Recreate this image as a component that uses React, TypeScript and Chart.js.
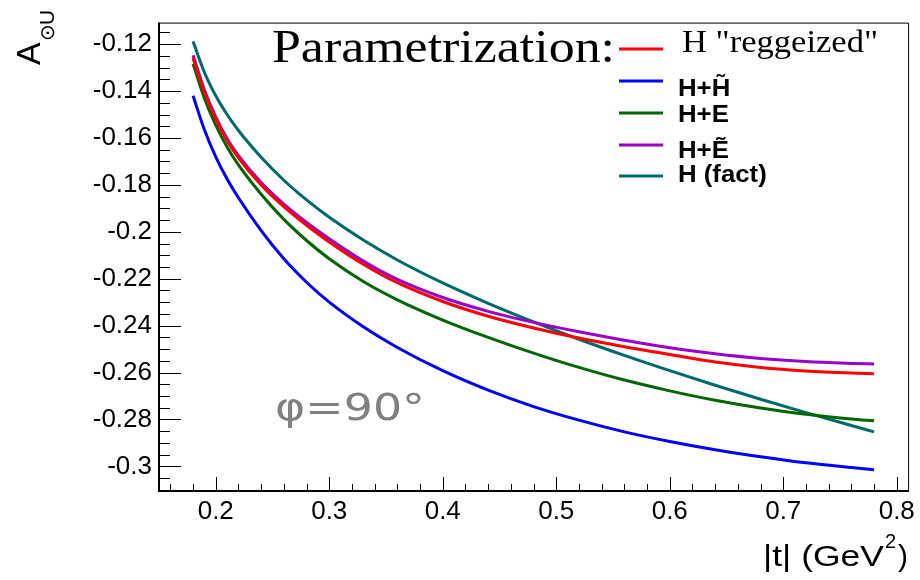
import React, { useEffect, useRef } from 'react';
import { Chart, registerables } from 'chart.js';

Chart.register(...registerables);

// |t| values (GeV^2)
const T_VALUES = [0.18, 0.19, 0.2, 0.21, 0.22, 0.24, 0.26, 0.28, 0.3, 0.33, 0.36, 0.4, 0.44, 0.48, 0.52, 0.56, 0.6, 0.64, 0.68, 0.72, 0.76, 0.78];

const H_REGGEIZED = [-0.1260, -0.1405, -0.1520, -0.1612, -0.1685, -0.1800, -0.1893, -0.1972, -0.2043, -0.2138, -0.2217, -0.2297, -0.2360, -0.2410, -0.2453, -0.2490, -0.2523, -0.2555, -0.2578, -0.2593, -0.2602, -0.2605];
const H_HTILDE = [-0.1420, -0.1565, -0.1680, -0.1775, -0.1855, -0.1995, -0.2115, -0.2215, -0.2300, -0.2405, -0.2493, -0.2592, -0.2675, -0.2745, -0.2803, -0.2853, -0.2894, -0.2929, -0.2959, -0.2985, -0.3005, -0.3014];
const H_E = [-0.1284, -0.1430, -0.1545, -0.1638, -0.1715, -0.1840, -0.1947, -0.2037, -0.2115, -0.2212, -0.2290, -0.2376, -0.2450, -0.2517, -0.2578, -0.2632, -0.2678, -0.2718, -0.2751, -0.2778, -0.2798, -0.2806];
const H_ETILDE = [-0.1247, -0.1395, -0.1510, -0.1603, -0.1675, -0.1790, -0.1882, -0.1960, -0.2030, -0.2125, -0.2203, -0.2280, -0.2339, -0.2386, -0.2426, -0.2462, -0.2494, -0.2520, -0.2540, -0.2553, -0.2561, -0.2564];
const H_FACT = [-0.1188, -0.1320, -0.1420, -0.1500, -0.1568, -0.1682, -0.1780, -0.1864, -0.1938, -0.2035, -0.2120, -0.2218, -0.2305, -0.2384, -0.2458, -0.2527, -0.2592, -0.2654, -0.2714, -0.2771, -0.2826, -0.2853];

const SERIES_LABELS = ['H "reggeized"', 'H+H\u0303', 'H+E', 'H+E\u0303', 'H (fact)'];
const SERIES_COLORS = ['#ff0000', '#0000ff', '#006600', '#9900cc', '#006a6a'];
const SERIES_VALUES = [H_REGGEIZED, H_HTILDE, H_E, H_ETILDE, H_FACT];

const X_MIN = 0.15;
const X_MAX = 0.81;
const X_STEP = 0.1;
const X_MINOR = 0.02;
const Y_MIN = -0.3105;
const Y_MAX = -0.1108;
const Y_STEP = 0.02;
const Y_MINOR = 0.005;

const HEADER = 'Parametrization:';
const PHI_LABEL = '\u03c6=90\u00b0';
const X_TITLE = '|t| (GeV';
const Y_TITLE = 'A';

function drawText(ctx: CanvasRenderingContext2D, s: string, x: number, y: number, font: string, color: string, opts: { sx?: number; width?: number; align?: 'left' | 'right' } = {}) {
  ctx.save();
  ctx.font = font;
  ctx.fillStyle = color;
  ctx.textAlign = 'left';
  ctx.textBaseline = 'alphabetic';
  const m = ctx.measureText(s).width;
  let sx = opts.sx ?? 1;
  if (opts.width) sx = opts.width / m;
  const w = m * sx;
  const x0 = opts.align === 'right' ? x - w : x;
  ctx.translate(x0, y);
  ctx.scale(sx, 1);
  ctx.fillText(s, 0, 0);
  ctx.restore();
  return w;
}

const framePlugin = {
  id: 'rootFrame',
  afterDraw(chart: any) {
    const { ctx, chartArea: a, scales } = chart;
    const xs = scales.x;
    const ys = scales.y;
    ctx.save();
    ctx.strokeStyle = '#000';
    ctx.lineWidth = 1;
    ctx.beginPath();
    ctx.moveTo(a.left, a.top + 0.5);
    ctx.lineTo(a.right + 0.5, a.top + 0.5);
    ctx.lineTo(a.right + 0.5, a.bottom);
    ctx.stroke();
    ctx.lineWidth = 2;
    ctx.beginPath();
    ctx.moveTo(a.left, a.top);
    ctx.lineTo(a.left, a.bottom);
    ctx.lineTo(a.right + 1, a.bottom);
    ctx.stroke();
    ctx.lineWidth = 1;
    ctx.beginPath();
    const i0 = Math.ceil(xs.min / X_MINOR - 1e-9);
    for (let i = i0; i * X_MINOR <= xs.max + 1e-9; i++) {
      const v = i * X_MINOR;
      const r = v / X_STEP;
      const major = Math.abs(r - Math.round(r)) < 1e-6;
      const px = Math.round(xs.getPixelForValue(v)) + 0.5;
      ctx.moveTo(px, a.bottom);
      ctx.lineTo(px, a.bottom - (major ? 14 : 7));
    }
    const j0 = Math.ceil(ys.min / Y_MINOR - 1e-9);
    for (let j = j0; j * Y_MINOR <= ys.max + 1e-9; j++) {
      const v = j * Y_MINOR;
      const r = v / Y_STEP;
      const major = Math.abs(r - Math.round(r)) < 1e-6;
      const py = Math.round(ys.getPixelForValue(v)) + 0.5;
      ctx.moveTo(a.left, py);
      ctx.lineTo(a.left + (major ? 22 : 11), py);
    }
    ctx.stroke();
    ctx.restore();
  },
};

const textPlugin = {
  id: 'rootTexts',
  afterDraw(chart: any) {
    const ctx: CanvasRenderingContext2D = chart.ctx;
    drawText(ctx, HEADER, 272, 62, "46px 'Liberation Serif'", '#000', { width: 343 });
    const rows = [
      { lineY: 49, textY: 52, font: "32px 'Liberation Serif'", width: 196, x: 682 },
      { lineY: 81, textY: 96, font: "bold 23px 'Liberation Sans'", sx: 1.12, x: 678 },
      { lineY: 113, textY: 121.5, font: "bold 23px 'Liberation Sans'", sx: 1.12, x: 678 },
      { lineY: 145, textY: 158, font: "bold 23px 'Liberation Sans'", sx: 1.12, x: 678 },
      { lineY: 176, textY: 182, font: "bold 23px 'Liberation Sans'", sx: 1.12, x: 678 },
    ];
    rows.forEach((r, i) => {
      ctx.save();
      ctx.strokeStyle = SERIES_COLORS[i];
      ctx.lineWidth = 3;
      ctx.beginPath();
      ctx.moveTo(619, r.lineY);
      ctx.lineTo(663, r.lineY);
      ctx.stroke();
      ctx.restore();
      drawText(ctx, SERIES_LABELS[i], r.x, r.textY, r.font, '#000', { width: (r as any).width, sx: (r as any).sx });
    });
    drawText(ctx, PHI_LABEL, 275, 420, "38px 'DejaVu Sans'", '#808080', { width: 150 });
    drawText(ctx, ')', 908, 566, "30px 'Liberation Sans'", '#000', { align: 'right' });
    drawText(ctx, '2', 896, 548, "20px 'Liberation Sans'", '#000', { align: 'right' });
    drawText(ctx, X_TITLE, 884, 566, "30px 'Liberation Sans'", '#000', { align: 'right', width: 121 });
    ctx.save();
    ctx.translate(40, 65);
    ctx.rotate(-Math.PI / 2);
    ctx.fillStyle = '#000';
    ctx.textBaseline = 'alphabetic';
    ctx.font = "34px 'Liberation Sans'";
    ctx.fillText(Y_TITLE, 0, 0);
    ctx.font = "20px 'DejaVu Sans'";
    ctx.fillText('\u2299', 24, 14);
    ctx.font = "21px 'Liberation Sans'";
    ctx.fillText('U', 40, 14);
    ctx.restore();
  },
};

const fmt = (v: any) => String(Number(Number(v).toFixed(3)));

export default function App() {
  const ref = useRef<HTMLCanvasElement | null>(null);
  useEffect(() => {
    document.body.style.margin = '0';
    const canvas = ref.current!;
    const datasets = SERIES_VALUES.map((vals, i) => ({
      label: SERIES_LABELS[i],
      data: T_VALUES.map((t, k) => ({ x: t, y: vals[k] })),
      borderColor: SERIES_COLORS[i],
      backgroundColor: SERIES_COLORS[i],
      borderWidth: 3,
      pointRadius: 0,
      fill: false,
      cubicInterpolationMode: 'monotone' as const,
    }));
    const chart = new Chart(canvas, {
      type: 'line',
      data: { datasets },
      options: {
        responsive: false,
        animation: false,
        events: [],
        layout: { padding: { left: 0, top: 14, right: 11, bottom: 0 } },
        plugins: { legend: { display: false }, tooltip: { enabled: false } },
        scales: {
          x: {
            type: 'linear',
            min: X_MIN,
            max: X_MAX,
            grid: { display: false, drawTicks: false },
            border: { display: false },
            ticks: {
              stepSize: X_STEP,
              includeBounds: false,
              autoSkip: false,
              maxRotation: 0,
              padding: 5,
              color: '#000',
              font: { family: "'Liberation Sans'", size: 26 },
              callback: fmt,
            },
            afterFit: (s: any) => { s.height = 89; },
          },
          y: {
            type: 'linear',
            min: Y_MIN,
            max: Y_MAX,
            grid: { display: false, drawTicks: false },
            border: { display: false },
            ticks: {
              stepSize: Y_STEP,
              includeBounds: false,
              autoSkip: false,
              padding: 7,
              color: '#000',
              font: { family: "'Liberation Sans'", size: 26 },
              callback: fmt,
            },
            afterFit: (s: any) => { s.width = 159; },
          },
        },
      },
      plugins: [framePlugin, textPlugin],
    });
    return () => chart.destroy();
  }, []);
  return (
    <div style={{ position: 'absolute', left: 0, top: 0, width: 920, height: 580, background: '#fff' }}>
      <canvas ref={ref} width={920} height={580} style={{ width: 920, height: 580, display: 'block' }} />
    </div>
  );
}
